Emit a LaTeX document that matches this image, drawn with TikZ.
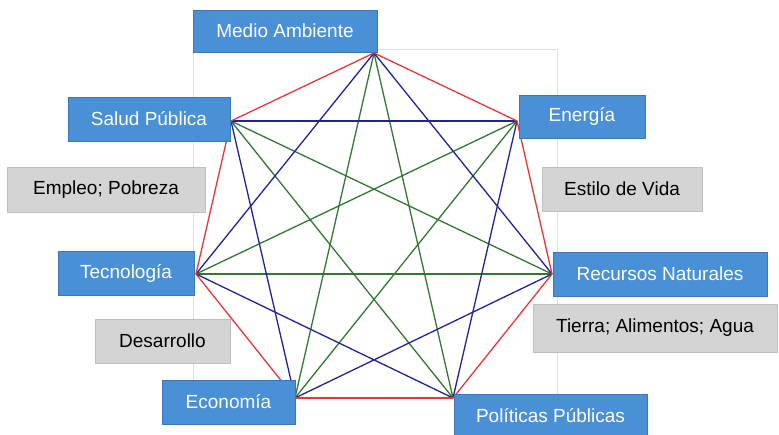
\documentclass[tikz,border=0pt]{standalone}
\usepackage{fontspec}
\setmainfont{Liberation Sans}
\usetikzlibrary{shadows}
\definecolor{boxblue}{RGB}{74,144,214}
\definecolor{boxblueedge}{RGB}{60,120,185}
\definecolor{boxgray}{RGB}{212,212,212}
\definecolor{boxgrayedge}{RGB}{190,190,190}
\definecolor{edgered}{RGB}{230,55,60}
\definecolor{edgeblue}{RGB}{35,35,150}
\definecolor{edgegreen}{RGB}{50,120,50}
\begin{document}
\begin{tikzpicture}[x=1pt,y=-1pt,
  bluebox/.style={draw=boxblueedge, line width=0.6pt, fill=boxblue, text=white, inner sep=0pt,
    font=\fontsize{19}{21}\selectfont, drop shadow={shadow xshift=1pt, shadow yshift=-1pt, opacity=0.25}},
  graybox/.style={draw=boxgrayedge, line width=0.6pt, fill=boxgray, text=black, inner sep=0pt,
    font=\fontsize{19}{21}\selectfont, drop shadow={shadow xshift=1pt, shadow yshift=-1pt, opacity=0.25}},
  redline/.style={edgered, line width=1.3pt},
  blueline/.style={edgeblue, line width=1.3pt},
  greenline/.style={edgegreen, line width=1.3pt},
  framebox/.style={draw=black!12, line width=0.6pt}]
\useasboundingbox (0,0) rectangle (779,434);
\fill[white] (0,0) rectangle (779,434);
\draw[framebox] (193,49) rectangle (557,398);
% vertices
\coordinate (MA) at (374,53);
\coordinate (EN) at (517,121);
\coordinate (RN) at (552,274);
\coordinate (PP) at (453,398);
\coordinate (EC) at (295,398);
\coordinate (TE) at (196,274);
\coordinate (SP) at (231,121);
% green (distance 3)
\draw[greenline] (MA) -- (PP);
\draw[greenline] (EN) -- (EC);
\draw[greenline] (RN) -- (TE);
\draw[greenline] (PP) -- (SP);
\draw[greenline] (EC) -- (MA);
\draw[greenline] (TE) -- (EN);
\draw[greenline] (SP) -- (RN);
% blue (distance 2)
\draw[blueline] (MA) -- (RN);
\draw[blueline] (EN) -- (PP);
\draw[blueline] (RN) -- (EC);
\draw[blueline] (PP) -- (TE);
\draw[blueline] (EC) -- (SP);
\draw[blueline] (TE) -- (MA);
\draw[blueline] (SP) -- (EN);
% red (adjacent)
\draw[redline] (MA) -- (EN);
\draw[redline] (EN) -- (RN);
\draw[redline] (RN) -- (PP);
\draw[redline] (PP) -- (EC);
\draw[redline] (EC) -- (TE);
\draw[redline] (TE) -- (SP);
\draw[redline] (SP) -- (MA);
% boxes
\node[bluebox, minimum width=184pt, minimum height=42pt] (medio) at (285,31) {Medio Ambiente};
\node[bluebox, minimum width=162pt, minimum height=44pt] (salud) at (149,119) {Salud Pública};
\node[bluebox, minimum width=126pt, minimum height=43pt] (energia) at (582,116.5) {Energía};
\node[graybox, minimum width=198pt, minimum height=45pt] (empleo) at (106,189.5) {Empleo; Pobreza};
\node[bluebox, minimum width=136pt, minimum height=44pt] (tecno) at (126,273) {Tecnología};
\node[graybox, minimum width=135pt, minimum height=44pt] (desarrollo) at (162.5,341) {Desarrollo};
\node[bluebox, minimum width=133pt, minimum height=44pt] (economia) at (228.5,402) {Economía};
\node[graybox, minimum width=160pt, minimum height=44pt] (estilo) at (622,189) {Estilo de Vida};
\node[bluebox, minimum width=214pt, minimum height=44pt] (recursos) at (660,274) {Recursos Naturales};
\node[graybox, minimum width=244pt, minimum height=48pt] (tierra) at (655,328) {Tierra; Alimentos; Agua};
\node[bluebox, minimum width=193pt, minimum height=44pt] (politicas) at (550.5,416) {Políticas Públicas};
\end{tikzpicture}
\end{document}
